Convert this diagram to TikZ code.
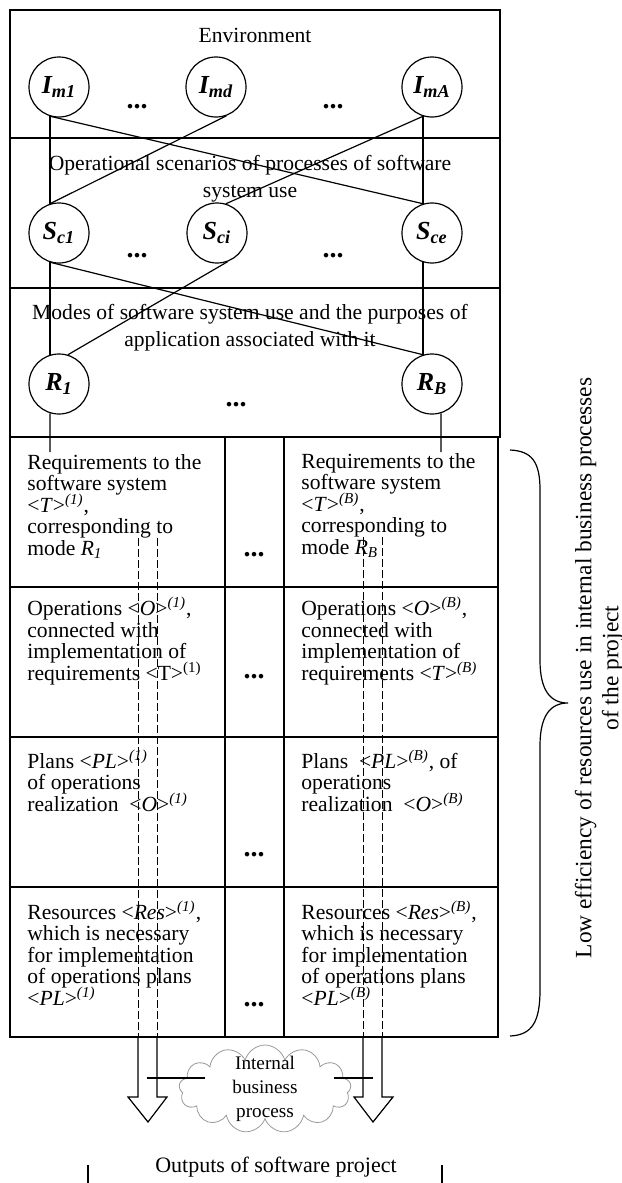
\documentclass[tikz,border=0pt]{standalone}
\usepackage{fontspec}
\setmainfont{Liberation Serif}
\usetikzlibrary{shapes.symbols}
\newcommand{\celdatexto}{\fontsize{10.8}{10.75}\selectfont\setlength{\lineskiplimit}{-20pt}}
\tikzset{
  modo/.style={circle,draw,line width=0.6pt,minimum size=30pt,inner sep=0pt,font=\fontsize{13}{13}\selectfont\bfseries\itshape},
  celda/.style={anchor=base west,align=left,inner sep=0pt,font=\celdatexto},
  titulo/.style={align=center,inner sep=0pt,font=\fontsize{10.8}{13.5}\selectfont},
  puntos/.style={inner sep=0pt,font=\fontsize{14}{14}\selectfont\bfseries},
  enlace/.style={line width=0.6pt},
  guion/.style={line width=0.5pt,dash pattern=on 4pt off 1.5pt},
  nube/.style={cloud,draw=gray!80,cloud puffs=13,aspect=2,minimum width=86pt,minimum height=44pt,inner sep=0pt}
}

\begin{document}
\begin{tikzpicture}[x=0.5pt,y=-0.5pt]
\useasboundingbox (0,0) rectangle (621,1183);
% upper bands
\draw[enlace] (10,10) rectangle (500,437);
\draw[enlace] (10,138) -- (500,138) (10,288) -- (500,288);
\node[titulo] (env) at (255,35) {Environment};
\node[titulo] (esc) at (250,179) {Operational scenarios of processes of software\\system use};
\node[titulo] (mod) at (250,328) {Modes of software system use and the purposes of\\application associated with it};
% circles
\node[modo] (Im1) at (59,87) {I\textsubscript{m1}};
\node[modo] (Imd) at (216,87) {I\textsubscript{md}};
\node[modo] (ImA) at (432,87) {I\textsubscript{mA}};
\node[modo] (Sc1) at (59,233) {S\textsubscript{c1}};
\node[modo] (Sci) at (217,233) {S\textsubscript{ci}};
\node[modo] (Sce) at (432,233) {S\textsubscript{ce}};
\node[modo] (R1) at (59,384) {R\textsubscript{1}};
\node[modo] (RB) at (432,384) {R\textsubscript{B}};
\foreach \px/\py [count=\k] in {137/107,333/107,137/256,333/256,236/405,254/555,254/677,254/855,254/1005}
  \node[puntos] (dots\k) at (\px,\py) {...};
% links
\draw[enlace] (Im1.253) -- (Sc1.107);
\draw[enlace] (Im1.253) -- (Sce.107);
\draw[enlace] (Imd.290) -- (Sc1.107);
\draw[enlace] (ImA.253) -- (Sce.107);
\draw[enlace] (ImA.253) -- (Sci.73);
\draw[enlace] (Sc1.253) -- (R1.107);
\draw[enlace] (Sc1.253) -- (RB.107);
\draw[enlace] (Sci.290) -- (R1.73);
\draw[enlace] (Sce.253) -- (RB.107);
\coordinate (R1low) at (50,452);
\coordinate (RBlow) at (441,452);
\draw[enlace] (R1.253) -- (R1low);
\draw[enlace] (RB.287) -- (RBlow);
% table
\draw[enlace] (10,437) rectangle (498,1037);
\draw[enlace] (225,437) -- (225,1037) (284,437) -- (284,1037);
\foreach \fy in {587,737,887}
  \draw[enlace] (10,\fy) -- (498,\fy);
\node[celda] (req1) at (27,555) {Requirements to the\\software system\\<\textit{T}>\textsuperscript{\textit{(1)}},\\corresponding to\\mode \textit{R}\textsubscript{\textit{1}}};
\node[celda] (reqB) at (301,554) {Requirements to the\\software system\\<\textit{T}>\textsuperscript{\textit{(B)}},\\corresponding to\\mode \textit{R}\textsubscript{\textit{B}}};
\node[celda] (op1) at (27,680) {Operations <\textit{O}>\textsuperscript{\textit{(1)}},\\connected with\\implementation of\\requirements <T>\textsuperscript{(1)}};
\node[celda] (opB) at (301,680) {Operations <\textit{O}>\textsuperscript{\textit{(B)}},\\connected with\\implementation of\\requirements <\textit{T}>\textsuperscript{\textit{(B)}}};
\node[celda] (pl1) at (27,811) {Plans <\textit{PL}>\textsuperscript{\textit{(1)}}\\of operations\\realization\ \ <\textit{O}>\textsuperscript{\textit{(1)}}};
\node[celda] (plB) at (301,811) {Plans\ \ <\textit{PL}>\textsuperscript{\textit{(B)}}, of\\operations\\realization\ \ <\textit{O}>\textsuperscript{\textit{(B)}}};
\node[celda] (res1) at (27,1005) {Resources <\textit{Res}>\textsuperscript{\textit{(1)}},\\which is necessary\\for implementation\\of operations plans\\<\textit{PL}>\textsuperscript{\textit{(1)}}};
\node[celda] (resB) at (301,1005) {Resources <\textit{Res}>\textsuperscript{\textit{(B)}},\\which is necessary\\for implementation\\of operations plans\\<\textit{PL}>\textsuperscript{\textit{(B)}}};
% dashed channels and arrows
\draw[guion] (138,538) -- (138,1037) (157,538) -- (157,1037);
\draw[guion] (363,537) -- (363,1037) (382,537) -- (382,1037);
\draw[enlace] (138,1037) -- (138,1097) -- (128,1097) -- (148,1122) -- (167,1097) -- (157,1097) -- (157,1037);
\draw[enlace] (363,1037) -- (363,1097) -- (354,1097) -- (373,1122) -- (393,1097) -- (382,1097) -- (382,1037);
% cloud
\node[nube,label={[align=center,inner sep=0pt,font=\fontsize{9.6}{12}\selectfont]center:{Internal\\business\\process}}] (ibp) at (265,1089) {};
\coordinate (larr) at (147,1078);
\coordinate (ibpL) at (205,1078);
\coordinate (rarr) at (373,1078);
\coordinate (ibpR) at (334,1078);
\draw[enlace] (larr) -- (ibpL);
\draw[enlace] (rarr) -- (ibpR);
\node[inner sep=0pt,font=\fontsize{11}{11}\selectfont] (outp) at (276,1167) {Outputs of software project};
\draw[enlace] (88,1165) -- (88,1183) (442,1165) -- (442,1183);
% brace and side note
\draw[enlace] (510,450) .. controls (532,451) and (540,462) .. (540,490) -- (540,660)
  .. controls (540,690) and (550,703) .. (568,703)
  .. controls (550,703) and (540,716) .. (540,746) -- (540,990)
  .. controls (540,1022) and (532,1035) .. (510,1036);
\node[rotate=90,align=center,inner sep=0pt,font=\fontsize{11.7}{13.5}\selectfont] (lowa) at (599,668) {Low efficiency of resources use in internal business processes\\of the project};
\end{tikzpicture}
\end{document}
